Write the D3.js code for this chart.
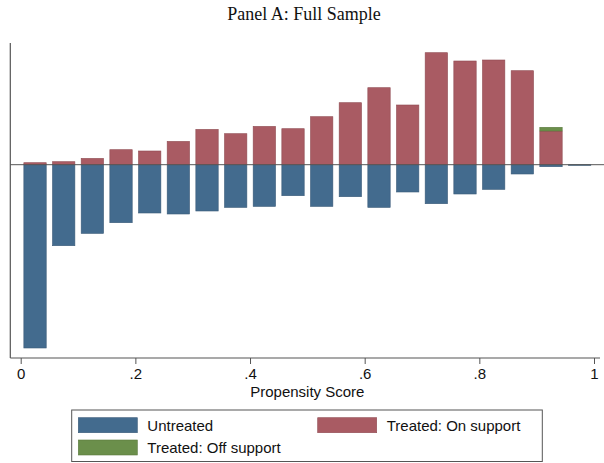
<!DOCTYPE html>
<html>
<head>
<meta charset="utf-8">
<script src="https://cdn.jsdelivr.net/npm/d3@7"></script>
<style>
  body { margin: 0; background: #fff; }
  svg { display: block; }
</style>
</head>
<body>
<svg id="chart"></svg>
<script>
// Bin midpoints of the propensity score (bins of .05)
const binMids = [0.025, 0.075, 0.125, 0.175, 0.225, 0.275, 0.325, 0.375, 0.425, 0.475,
                 0.525, 0.575, 0.625, 0.675, 0.725, 0.775, 0.825, 0.875, 0.925, 0.975];
// Frequencies (unlabelled axis)
const treatedOn = [2, 3, 6.3, 15, 13.7, 23.3, 35.3, 31, 38.3, 36,
                   48, 62, 77, 59.7, 112, 103.7, 104.7, 94, 33.7, 0];
const treatedOff = [0, 0, 0, 0, 0, 0, 0, 0, 0, 0,
                    0, 0, 0, 0, 0, 0, 0, 0, 3.7, 0];
const untreated = [183.3, 81, 68.7, 58, 48.3, 49.3, 46.3, 42.7, 41.7, 31,
                   41.7, 32, 42.7, 27.3, 39, 29.3, 24.7, 9.3, 2, 0.7];
const xTicks = [0, 0.2, 0.4, 0.6, 0.8, 1];
const legendItems = [
  { label: "Untreated", key: "untreated" },
  { label: "Treated: On support", key: "on" },
  { label: "Treated: Off support", key: "off" }
];

const colors = { untreated: "#436b8e", on: "#a95b63", off: "#6b8f4b" };
const outline = { untreated: "#3a5a78", on: "#8f4b52", off: "#5a7a3e" };

const width = 604, height = 463;
const svg = d3.select("#chart").attr("width", width).attr("height", height);
const sans = "'Liberation Sans', Arial, Helvetica, sans-serif";

// Title
svg.append("text")
  .attr("x", 304).attr("y", 20)
  .attr("text-anchor", "middle")
  .style("font-family", "'Liberation Serif', 'Times New Roman', serif")
  .style("font-size", "18px")
  .attr("fill", "#111")
  .text("Panel A: Full Sample");

// Scales
const x = d3.scaleLinear().domain([0, 1]).range([20.7, 594]);
const y = d3.scaleLinear().domain([-193.3, 121.7]).range([358, 43]);
const barW = 0.039;

// Bottom axis
const xAxis = d3.axisBottom(x)
  .tickValues(xTicks)
  .tickSize(6)
  .tickFormat(d => d === 0 ? "0" : d === 1 ? "1" : d3.format(".1f")(d).replace(/^0/, ""));

const gx = svg.append("g")
  .attr("transform", "translate(0," + y.range()[0] + ")")
  .call(xAxis);
gx.select(".domain").remove();
gx.selectAll(".tick line").attr("stroke", "#555");
gx.selectAll(".tick text")
  .attr("dy", "0.8em")
  .style("font-family", sans)
  .style("font-size", "15px")
  .attr("fill", "#111");

// axis lines
svg.append("line")
  .attr("x1", 10.3).attr("x2", 600)
  .attr("y1", y.range()[0]).attr("y2", y.range()[0])
  .attr("stroke", "#555").attr("stroke-width", 1.2);
svg.append("line")
  .attr("x1", 10.3).attr("x2", 10.3)
  .attr("y1", y.range()[1]).attr("y2", y.range()[0])
  .attr("stroke", "#555").attr("stroke-width", 1.2);

// Axis title
svg.append("text")
  .attr("x", x(0.5)).attr("y", 397)
  .attr("text-anchor", "middle")
  .style("font-family", sans)
  .style("font-size", "15px")
  .attr("fill", "#111")
  .text("Propensity Score");

// Bars
const bars = svg.append("g");
function barX(d) { return x(d - barW / 2); }
const bw = x(barW) - x(0);

bars.selectAll(".untreated")
  .data(binMids.map((m, i) => ({ m, v: untreated[i] })))
  .enter().append("rect")
  .attr("x", d => barX(d.m))
  .attr("width", bw)
  .attr("y", y(0))
  .attr("height", d => y(-d.v) - y(0))
  .attr("fill", colors.untreated)
  .attr("stroke", outline.untreated)
  .attr("stroke-width", 0.6);

bars.selectAll(".on")
  .data(binMids.map((m, i) => ({ m, v: treatedOn[i] })).filter(d => d.v > 0))
  .enter().append("rect")
  .attr("x", d => barX(d.m))
  .attr("width", bw)
  .attr("y", d => y(d.v))
  .attr("height", d => y(0) - y(d.v))
  .attr("fill", colors.on)
  .attr("stroke", outline.on)
  .attr("stroke-width", 0.6);

bars.selectAll(".off")
  .data(binMids.map((m, i) => ({ m, base: treatedOn[i], v: treatedOff[i] })).filter(d => d.v > 0))
  .enter().append("rect")
  .attr("x", d => barX(d.m))
  .attr("width", bw)
  .attr("y", d => y(d.base + d.v))
  .attr("height", d => y(d.base) - y(d.base + d.v))
  .attr("fill", colors.off)
  .attr("stroke", outline.off)
  .attr("stroke-width", 0.6);

// Zero line
svg.append("line")
  .attr("x1", 10.3).attr("x2", 604)
  .attr("y1", y(0)).attr("y2", y(0))
  .attr("stroke", "#555").attr("stroke-width", 1);

// Legend
const legend = svg.append("g");
legend.append("rect")
  .attr("x", 71.7).attr("y", 410)
  .attr("width", 470.6).attr("height", 51.5)
  .attr("fill", "#fff")
  .attr("stroke", "#555").attr("stroke-width", 1);

const legPos = [[78.3, 417.7], [317.7, 417.7], [78.3, 440]];
legendItems.forEach((it, i) => {
  const [lx, ly] = legPos[i];
  legend.append("rect")
    .attr("x", lx).attr("y", ly)
    .attr("width", 59).attr("height", 15)
    .attr("fill", colors[it.key])
    .attr("stroke", outline[it.key]).attr("stroke-width", 0.6);
  legend.append("text")
    .attr("x", lx + 69).attr("y", ly + 13)
    .style("font-family", sans)
    .style("font-size", "15px")
    .attr("fill", "#111")
    .text(it.label);
});
</script>
</body>
</html>
